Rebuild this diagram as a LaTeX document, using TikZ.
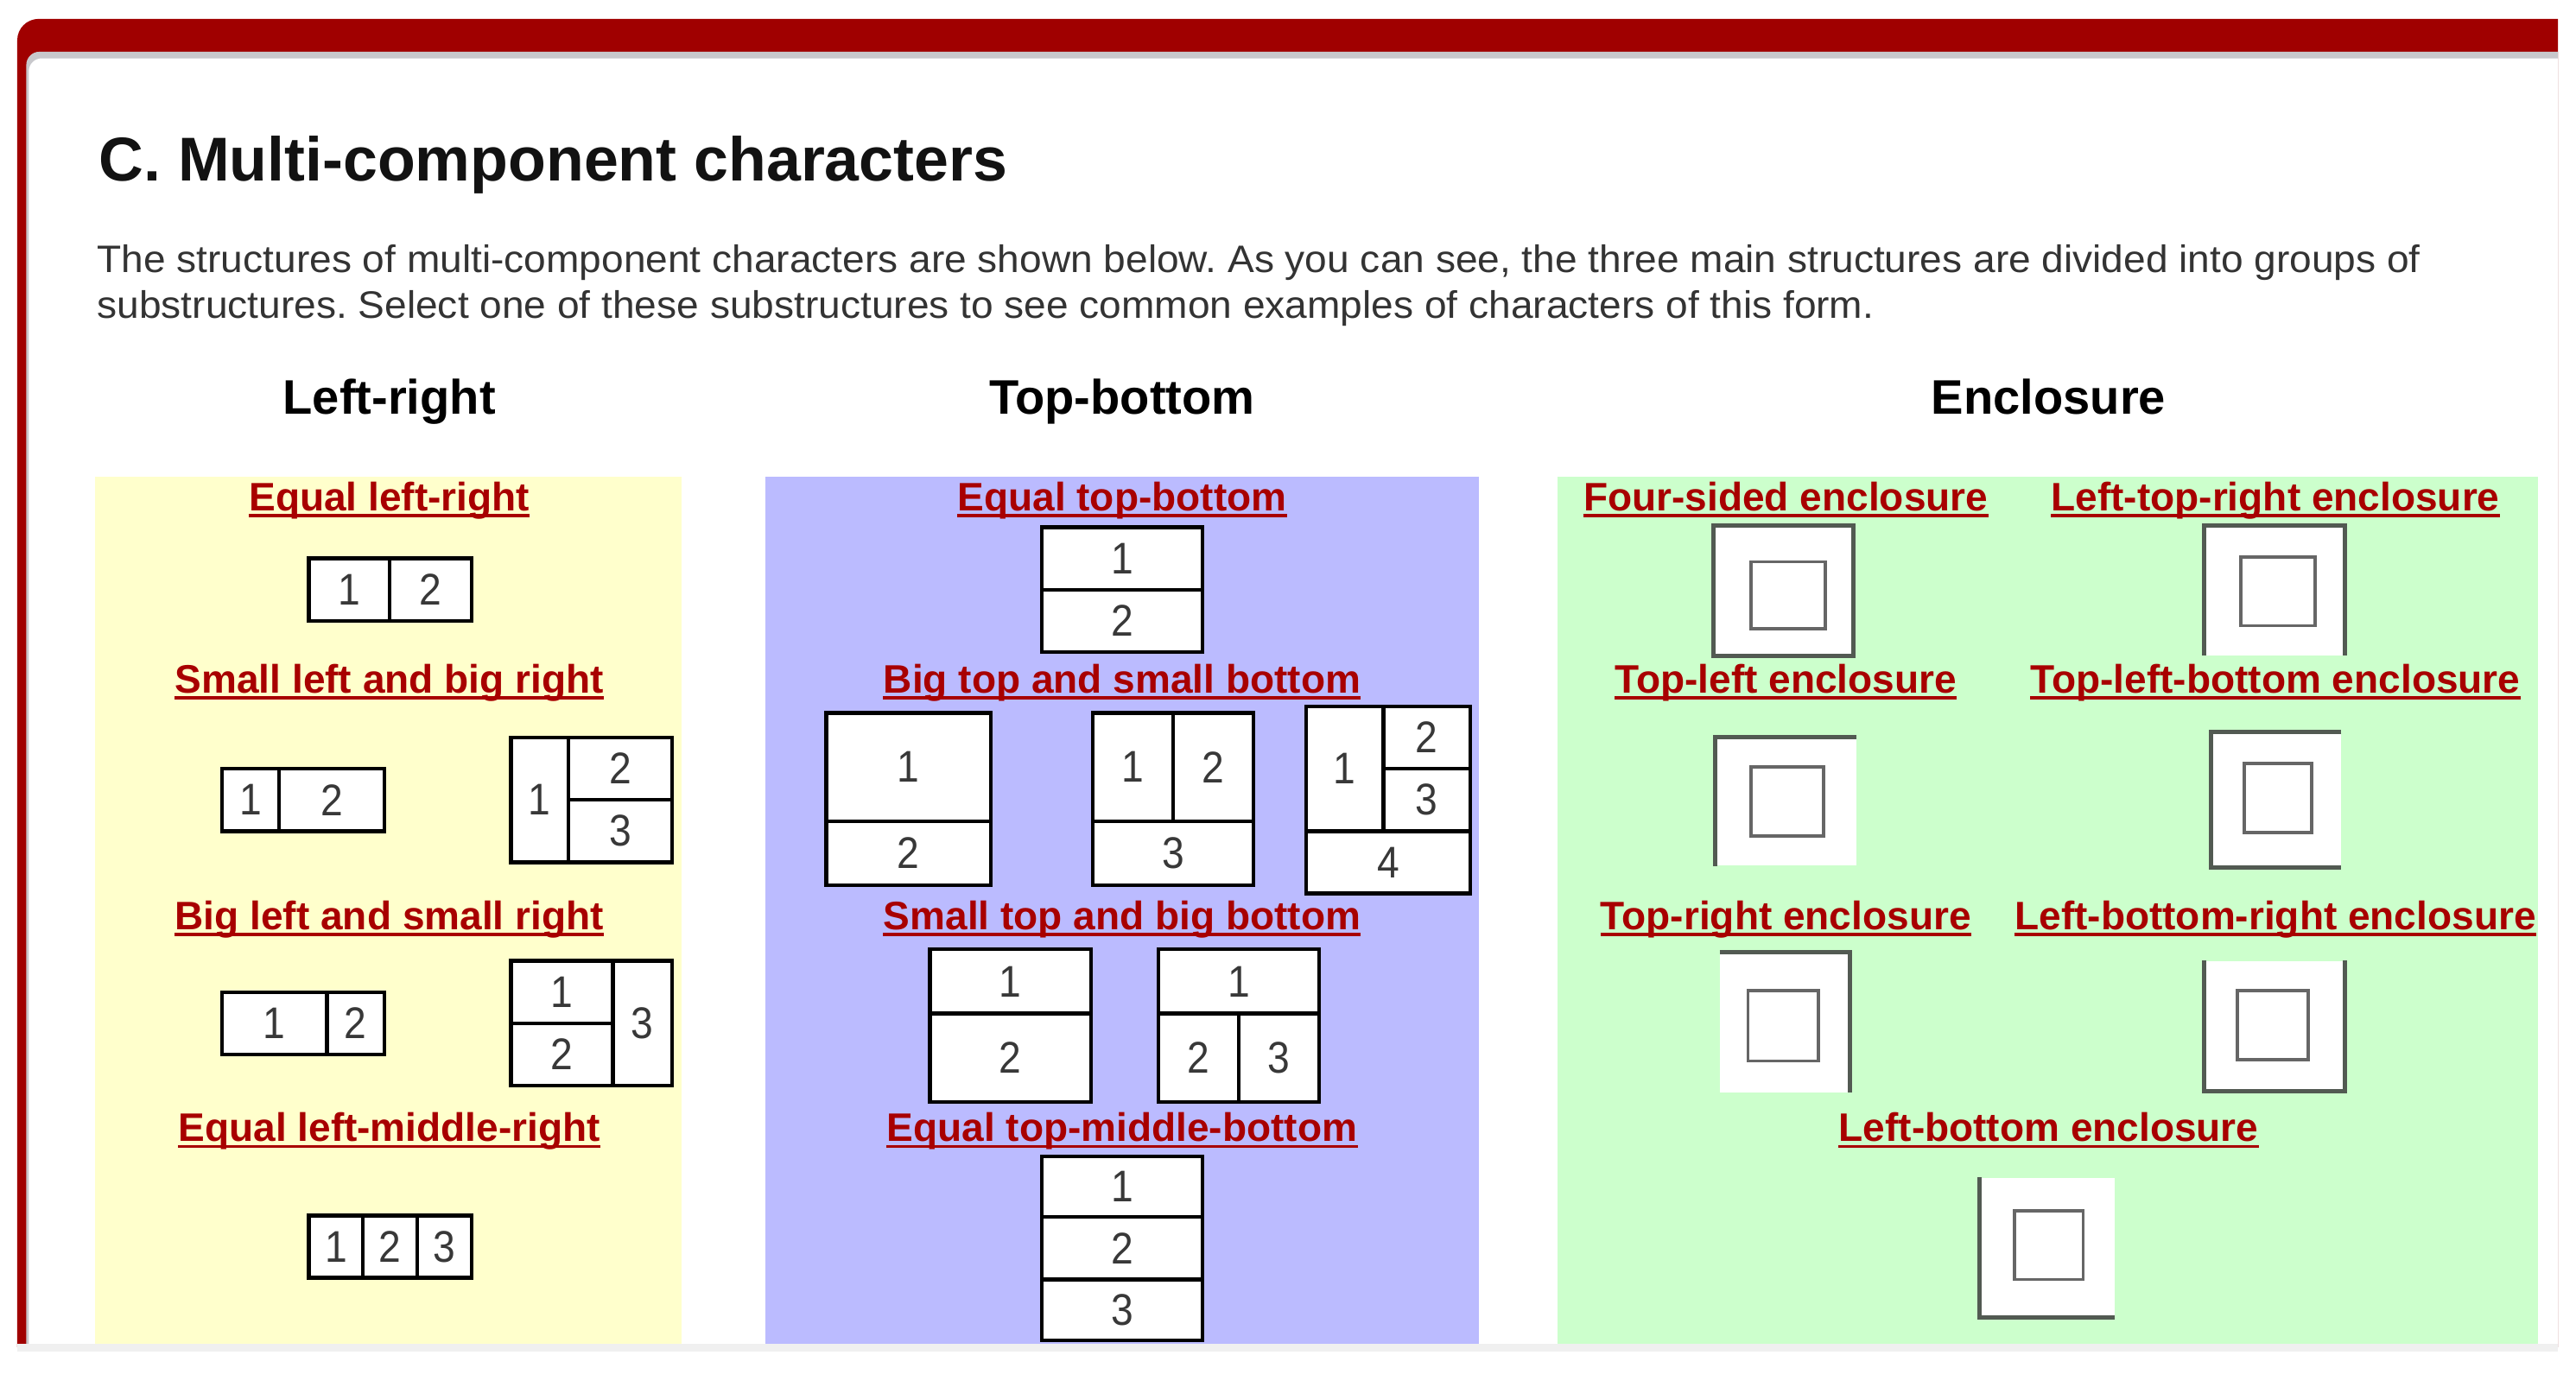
\documentclass[tikz,border=0pt]{standalone}
\usepackage{fontspec}
\setmainfont{Liberation Sans}
\newfontfamily\bodyfont{Liberation Sans}[FakeStretch=1.04]
\newfontfamily\digitfont{Liberation Sans}[FakeStretch=0.9]
\usetikzlibrary{fit}

\definecolor{framered}{RGB}{160,0,0}
\definecolor{linkred}{RGB}{168,0,0}
\definecolor{lrpanel}{RGB}{255,255,204}
\definecolor{tbpanel}{RGB}{187,187,255}
\definecolor{encpanel}{RGB}{204,255,204}
\definecolor{bodygrey}{RGB}{51,51,51}
\definecolor{encline}{RGB}{82,90,82}
\definecolor{shadowgrey}{RGB}{200,200,204}

\tikzstyle{title}=[
	anchor=base west,
	inner sep=0pt,
	text=black!93,
	font=\fontsize{37.7}{44}\selectfont\bfseries
]
\tikzstyle{bodytext}=[
	anchor=base west,
	inner sep=0pt,
	text=bodygrey,
	font=\bodyfont\fontsize{23.3}{27}\selectfont\frenchspacing
]
\tikzstyle{heading}=[
	anchor=base,
	inner sep=0pt,
	font=\fontsize{29.5}{34}\selectfont\bfseries
]
\tikzstyle{link}=[
	anchor=base,
	inner sep=0pt,
	text=linkred,
	font=\fontsize{24.2}{28}\selectfont\bfseries
]
\tikzstyle{linkline}=[
	draw=linkred,
	line width=2pt
]
\tikzstyle{digit}=[
	inner sep=0pt,
	text=black!78,
	font=\digitfont\fontsize{27}{27}\selectfont
]
\tikzstyle{cell}=[
	rectangle,
	draw=black,
	fill=white,
	line width=2.3pt,
	inner sep=0pt
]
\tikzstyle{outerbox}=[
	rectangle,
	fill=white,
	inner sep=0pt
]
\tikzstyle{innerbox}=[
	rectangle,
	draw=black!60,
	fill=white,
	line width=2pt,
	inner sep=0pt
]
\tikzstyle{encside}=[
	draw=encline,
	line width=2.6pt
]

\begin{document}
\begin{tikzpicture}[x=1pt,y=-1pt]
\useasboundingbox (0,0) rectangle (1568,844);
\fill[white] (0,0) rectangle (1568,844);

% page frame
\begin{scope}
\clip (0,0) rectangle (1557,820);
\fill[framered, rounded corners=13pt] (10.5,11.5) rectangle (1620,900);
\fill[shadowgrey, rounded corners=8pt] (16,31.5) rectangle (1620,900);
\fill[white, rounded corners=8pt] (17.5,35.5) rectangle (1620,900);
\end{scope}
\fill[black!6] (10.5,818) rectangle (1557,823);

\node[title] (title) at (60,110) {C. Multi-component characters};
\node[bodytext] (intro1) at (59,166) {The structures of multi-component characters are shown below. As you can see, the three main structures are divided into groups of};
\node[bodytext] (intro2) at (59,194) {substructures. Select one of these substructures to see common examples of characters of this form.};

\node[heading] (hd-lr) at (237,252) {Left-right};
\node[heading] (hd-tb) at (683,252) {Top-bottom};
\node[heading] (hd-enc) at (1247,252) {Enclosure};

\fill[lrpanel] (58,290) rectangle (415,818);
\fill[tbpanel] (466,290) rectangle (900,818);
\fill[encpanel] (948,290) rectangle (1545,818);

% left-right
\node[link] (lnk-elr) at (237,311) {Equal left-right};
\node[cell, fit={(188,340) (237,378)}, label={[digit]center:1}] (elr-1) {};
\node[cell, fit={(237,340) (287,378)}, label={[digit]center:2}] (elr-2) {};

\node[link] (lnk-slbr) at (237,422) {Small left and big right};
\node[cell, fit={(135,468) (170,506)}, label={[digit]center:1}] (slbr-a1) {};
\node[cell, fit={(170,468) (234,506)}, label={[digit]center:2}] (slbr-a2) {};
\node[cell, fit={(311,449) (346,525)}, label={[digit]center:1}] (slbr-b1) {};
\node[cell, fit={(346,449) (409,487)}, label={[digit]center:2}] (slbr-b2) {};
\node[cell, fit={(346,487) (409,525)}, label={[digit]center:3}] (slbr-b3) {};

\node[link] (lnk-blsr) at (237,566) {Big left and small right};
\node[cell, fit={(135,604) (199,642)}, label={[digit]center:1}] (blsr-a1) {};
\node[cell, fit={(199,604) (234,642)}, label={[digit]center:2}] (blsr-a2) {};
\node[cell, fit={(311,585) (373,623)}, label={[digit]center:1}] (blsr-b1) {};
\node[cell, fit={(311,623) (373,661)}, label={[digit]center:2}] (blsr-b2) {};
\node[cell, fit={(373,585) (409,661)}, label={[digit]center:3}] (blsr-b3) {};

\node[link] (lnk-elmr) at (237,695) {Equal left-middle-right};
\node[cell, fit={(188,740) (221,778)}, label={[digit]center:1}] (elmr-1) {};
\node[cell, fit={(221,740) (254,778)}, label={[digit]center:2}] (elmr-2) {};
\node[cell, fit={(254,740) (287,778)}, label={[digit]center:3}] (elmr-3) {};

% top-bottom
\node[link] (lnk-etb) at (683,311) {Equal top-bottom};
\node[cell, fit={(634,321) (732,359)}, label={[digit]center:1}] (etb-1) {};
\node[cell, fit={(634,359) (732,397)}, label={[digit]center:2}] (etb-2) {};

\node[link] (lnk-btsb) at (683,422) {Big top and small bottom};
\node[cell, fit={(503,434) (603,500)}, label={[digit]center:1}] (btsb-a1) {};
\node[cell, fit={(503,500) (603,539)}, label={[digit]center:2}] (btsb-a2) {};
\node[cell, fit={(665,434) (714,500)}, label={[digit]center:1}] (btsb-b1) {};
\node[cell, fit={(714,434) (763,500)}, label={[digit]center:2}] (btsb-b2) {};
\node[cell, fit={(665,500) (763,539)}, label={[digit]center:3}] (btsb-b3) {};
\node[cell, fit={(795,430) (842,506)}, label={[digit]center:1}] (btsb-c1) {};
\node[cell, fit={(842,430) (895,468)}, label={[digit]center:2}] (btsb-c2) {};
\node[cell, fit={(842,468) (895,506)}, label={[digit]center:3}] (btsb-c3) {};
\node[cell, fit={(795,506) (895,544)}, label={[digit]center:4}] (btsb-c4) {};

\node[link] (lnk-stbb) at (683,566) {Small top and big bottom};
\node[cell, fit={(566,578) (664,617)}, label={[digit]center:1}] (stbb-a1) {};
\node[cell, fit={(566,617) (664,671)}, label={[digit]center:2}] (stbb-a2) {};
\node[cell, fit={(705,578) (803,617)}, label={[digit]center:1}] (stbb-b1) {};
\node[cell, fit={(705,617) (754,671)}, label={[digit]center:2}] (stbb-b2) {};
\node[cell, fit={(754,617) (803,671)}, label={[digit]center:3}] (stbb-b3) {};

\node[link] (lnk-etmb) at (683,695) {Equal top-middle-bottom};
\node[cell, fit={(634,704) (732,741)}, label={[digit]center:1}] (etmb-1) {};
\node[cell, fit={(634,741) (732,779)}, label={[digit]center:2}] (etmb-2) {};
\node[cell, fit={(634,779) (732,816)}, label={[digit]center:3}] (etmb-3) {};

% enclosure
\node[link] (lnk-four) at (1087,311) {Four-sided enclosure};
\node[outerbox, fit={(1043,320) (1128,399)}] (four) {};
\node[innerbox, fit={(1066,342) (1111,383)}] (four-in) {};
\draw[encside] (four.south west) rectangle (four.north east);

\node[link] (lnk-ltr) at (1385,311) {Left-top-right enclosure};
\node[outerbox, fit={(1342,320) (1427,399)}] (ltr) {};
\node[innerbox, fit={(1364,339) (1409,381)}] (ltr-in) {};
\draw[encside] (ltr.south west) -- (ltr.north west) -- (ltr.north east) -- (ltr.south east);

\node[link] (lnk-tl) at (1087,422) {Top-left enclosure};
\node[outerbox, fit={(1044,449) (1130,527)}] (tl) {};
\node[innerbox, fit={(1066,467) (1110,509)}] (tl-in) {};
\draw[encside] (tl.south west) -- (tl.north west) -- (tl.north east);

\node[link] (lnk-tlb) at (1385,422) {Top-left-bottom enclosure};
\node[outerbox, fit={(1346,446) (1425,528)}] (tlb) {};
\node[innerbox, fit={(1366,465) (1407,507)}] (tlb-in) {};
\draw[encside] (tlb.north east) -- (tlb.north west) -- (tlb.south west) -- (tlb.south east);

\node[link] (lnk-tr) at (1087,566) {Top-right enclosure};
\node[outerbox, fit={(1047,580) (1126,665)}] (tr) {};
\node[innerbox, fit={(1064,603) (1107,646)}] (tr-in) {};
\draw[encside] (tr.north west) -- (tr.north east) -- (tr.south east);

\node[link] (lnk-lbr) at (1385,566) {Left-bottom-right enclosure};
\node[outerbox, fit={(1342,585) (1427,664)}] (lbr) {};
\node[innerbox, fit={(1362,603) (1405,645)}] (lbr-in) {};
\draw[encside] (lbr.north west) -- (lbr.south west) -- (lbr.south east) -- (lbr.north east);

\node[link] (lnk-lb) at (1247,695) {Left-bottom enclosure};
\node[outerbox, fit={(1205,717) (1287,802)}] (lb) {};
\node[innerbox, fit={(1226,737) (1268,779)}] (lb-in) {};
\draw[encside] (lb.north west) -- (lb.south west) -- (lb.south east);

\foreach \n in {elr,slbr,blsr,elmr,etb,btsb,stbb,etmb,four,ltr,tl,tlb,tr,lbr,lb}
	\draw[linkline] ([yshift=-3pt]lnk-\n.base west) -- ([yshift=-3pt]lnk-\n.base east);
\end{tikzpicture}
\end{document}
